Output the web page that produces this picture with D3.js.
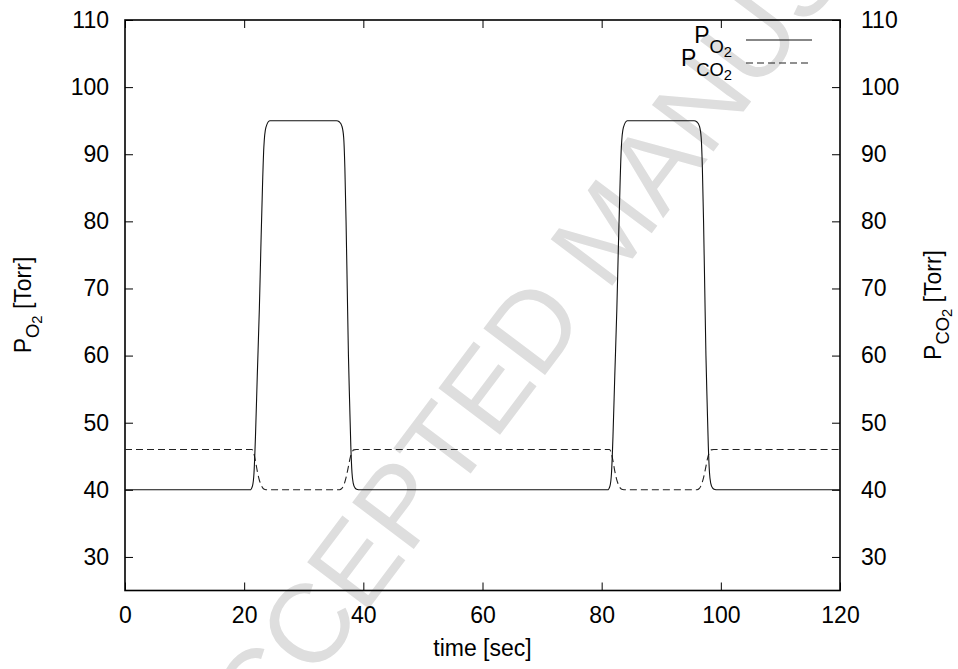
<!DOCTYPE html>
<html><head><meta charset="utf-8">
<script src="https://cdn.jsdelivr.net/npm/d3@7/dist/d3.min.js"></script>
<style>
html,body{margin:0;padding:0;background:#fff;}
svg text{font-family:"Liberation Sans",Arial,Helvetica,sans-serif;}
</style></head>
<body><svg id="c" width="958" height="669"></svg>
<script>
// ---- data ----
const xTicks = [0, 20, 40, 60, 80, 100, 120];
const yTicks = [30, 40, 50, 60, 70, 80, 90, 100, 110];
const tO2 = [0, 21.0, 21.4, 21.65, 21.9, 22.2, 22.55, 22.8, 23.1, 23.3, 23.65, 24.3,
  35.5, 36.0, 36.4, 36.7, 36.9, 37.1, 37.3, 37.5, 37.7, 37.9, 38.1, 38.3, 38.6, 39.0, 39.4,
  81.0, 81.4, 81.65, 81.9, 82.2, 82.55, 82.8, 83.1, 83.3, 83.65, 84.3,
  95.5, 96.0, 96.4, 96.7, 96.9, 97.1, 97.3, 97.5, 97.7, 97.9, 98.1, 98.3, 98.6, 99.0, 99.4, 120];
const pO2 = [40, 40, 40.6, 42.5, 48, 57, 67, 76, 86, 91, 94, 95,
  95, 94.8, 94.2, 92.5, 88, 80, 70, 60, 53, 46.5, 42.5, 41, 40.3, 40.05, 40,
  40, 40.6, 42.5, 48, 57, 67, 76, 86, 91, 94, 95,
  95, 94.8, 94.2, 92.5, 88, 80, 70, 60, 53, 46.5, 42.5, 41, 40.3, 40.05, 40, 40];
const tCO2 = [0, 21.3, 21.6, 21.9, 22.2, 22.5, 22.8, 23.1, 23.5, 24.0,
  36.0, 36.4, 36.8, 37.2, 37.5, 37.8, 38.1, 38.4, 38.8,
  81.3, 81.6, 81.9, 82.2, 82.5, 82.8, 83.1, 83.5, 84.0,
  96.0, 96.4, 96.8, 97.2, 97.5, 97.8, 98.1, 98.4, 98.8, 120];
const pCO2 = [46, 46, 45.5, 44.3, 42.8, 41.6, 40.8, 40.3, 40.05, 40,
  40, 40.2, 40.9, 42.2, 43.5, 44.8, 45.6, 45.95, 46,
  46, 45.5, 44.3, 42.8, 41.6, 40.8, 40.3, 40.05, 40,
  40, 40.2, 40.9, 42.2, 43.5, 44.8, 45.6, 45.95, 46, 46];

// ---- layout ----
const L = 125, R = 840, T = 20, B = 590.5;
const FS = 23;
const svg = d3.select("#c");

// watermark
svg.append("text")
  .attr("transform", "translate(606,230) rotate(-53)")
  .attr("text-anchor", "middle")
  .attr("dominant-baseline", "central")
  .attr("font-size", 112)
  .attr("fill", "#dedede")
  .text("ACCEPTED MANUSCRIPT");

const x = d3.scaleLinear().domain([0, 120]).range([L, R]);
const y = d3.scaleLinear().domain([25, 110]).range([B, T]);

function styleAxis(g) {
  g.select(".domain").remove();
  g.selectAll(".tick line").attr("stroke", "#000").attr("stroke-width", 1);
  g.selectAll(".tick text").attr("font-size", FS).attr("fill", "#000")
    .attr("font-family", '"Liberation Sans",Arial,sans-serif');
}
svg.append("g").attr("transform", `translate(0,${B})`)
  .call(d3.axisBottom(x).tickValues(xTicks).tickSizeInner(-8).tickSizeOuter(0).tickPadding(16))
  .call(styleAxis);
svg.append("g").attr("transform", `translate(0,${T})`)
  .call(d3.axisTop(x).tickValues(xTicks).tickSizeInner(-8).tickSizeOuter(0).tickFormat(""))
  .call(styleAxis);
svg.append("g").attr("transform", `translate(${L},0)`)
  .call(d3.axisLeft(y).tickValues(yTicks).tickSizeInner(-8).tickSizeOuter(0).tickPadding(16))
  .call(styleAxis);
svg.append("g").attr("transform", `translate(${R},0)`)
  .call(d3.axisRight(y).tickValues(yTicks).tickSizeInner(-8).tickSizeOuter(0).tickPadding(21))
  .call(styleAxis);

// frame
svg.append("rect").attr("x", L).attr("y", T).attr("width", R - L).attr("height", B - T)
  .attr("fill", "none").attr("stroke", "#000").attr("stroke-width", 1.6);

// lines
const o2 = tO2.map((t, i) => [t, pO2[i]]);
const co2 = tCO2.map((t, i) => [t, pCO2[i]]);
const line = d3.line().x(d => x(d[0])).y(d => y(d[1])).curve(d3.curveMonotoneX);
svg.append("path").attr("d", line(co2)).attr("fill", "none").attr("stroke", "#222")
  .attr("stroke-width", 1.1).attr("stroke-dasharray", "7,4");
svg.append("path").attr("d", line(o2)).attr("fill", "none").attr("stroke", "#111")
  .attr("stroke-width", 1.1);

// legend
function pText(sel, sub) {
  sel.append("tspan").text("P");
  sel.append("tspan").attr("font-size", FS * 0.8).attr("dy", 10).text(sub);
  sel.append("tspan").attr("font-size", FS * 0.64).attr("dy", 4).text("2");
}
const lg1 = svg.append("text").attr("x", 732).attr("y", 43).attr("text-anchor", "end").attr("font-size", FS);
pText(lg1, "O");
svg.append("line").attr("x1", 746).attr("x2", 812).attr("y1", 40).attr("y2", 40)
  .attr("stroke", "#111").attr("stroke-width", 1.1);
const lg2 = svg.append("text").attr("x", 732).attr("y", 66).attr("text-anchor", "end").attr("font-size", FS);
pText(lg2, "CO");
svg.append("line").attr("x1", 746).attr("x2", 812).attr("y1", 63).attr("y2", 63)
  .attr("stroke", "#222").attr("stroke-width", 1.1).attr("stroke-dasharray", "7,4");

// axis titles
svg.append("text").attr("x", (L + R) / 2).attr("y", 656).attr("text-anchor", "middle")
  .attr("font-size", FS).text("time [sec]");
function yTitle(xpos, sub) {
  const t = svg.append("text").attr("transform", `translate(${xpos},305) rotate(-90)`)
    .attr("text-anchor", "middle").attr("font-size", FS);
  t.append("tspan").text("P");
  t.append("tspan").attr("font-size", FS * 0.8).attr("dy", 8).text(sub);
  t.append("tspan").attr("font-size", FS * 0.64).attr("dy", 3).text("2");
  t.append("tspan").attr("dy", -11).text(" [Torr]");
}
yTitle(31, "O");
yTitle(941, "CO");
</script></body></html>
